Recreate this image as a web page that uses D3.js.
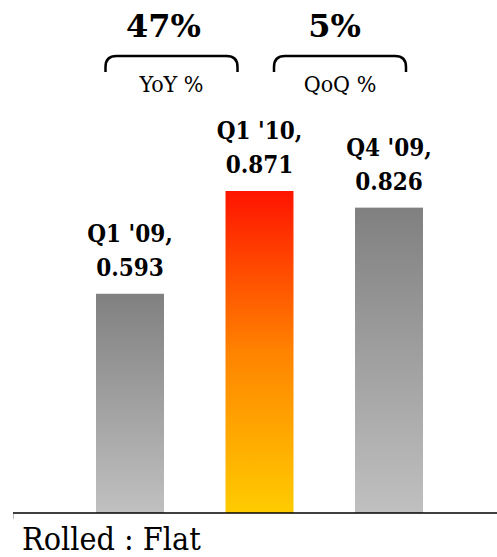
<!DOCTYPE html>
<html>
<head>
<meta charset="utf-8">
<script src="https://cdn.jsdelivr.net/npm/d3@7"></script>
<style>
  html, body { margin: 0; padding: 0; background: #fff; }
  svg { display: block; }
  text { font-family: "DejaVu Serif Condensed", "DejaVu Serif", serif; }
</style>
</head>
<body>
<svg id="chart" width="497" height="557"></svg>
<script>
// Quarterly values
const categories = ["Q1 '09", "Q1 '10", "Q4 '09"];
const values = [0.593, 0.871, 0.826];
const highlight = [false, true, false];

// Growth call-outs above the bars
const growthValues = ["47%", "5%"];
const growthLabels = ["YoY %", "QoQ %"];

const footer = "Rolled : Flat";

const svg = d3.select("#chart");
const W = 497, H = 557;
const baseY = 513;

const x = d3.scaleBand()
  .domain(categories)
  .range([65.25, 453.75])
  .paddingInner(0.475)
  .paddingOuter(0.2375);

const y = d3.scaleLinear()
  .domain([0, 1])
  .range([baseY, baseY - 369.7]);

const defs = svg.append("defs");
const grayGrad = defs.append("linearGradient")
  .attr("id", "gray").attr("x1", 0).attr("y1", 0).attr("x2", 0).attr("y2", 1);
grayGrad.append("stop").attr("offset", 0).attr("stop-color", "#808080");
grayGrad.append("stop").attr("offset", 1).attr("stop-color", "#c0c0c0");

const hotGrad = defs.append("linearGradient")
  .attr("id", "hot").attr("x1", 0).attr("y1", 0).attr("x2", 0).attr("y2", 1);
hotGrad.append("stop").attr("offset", 0).attr("stop-color", "#ff1400");
hotGrad.append("stop").attr("offset", 0.5).attr("stop-color", "#ff8300");
hotGrad.append("stop").attr("offset", 1).attr("stop-color", "#ffcc00");

// Bars
svg.append("g").selectAll("rect")
  .data(values)
  .join("rect")
  .attr("x", (d, i) => x(categories[i]))
  .attr("y", d => y(d))
  .attr("width", x.bandwidth())
  .attr("height", d => y(0) - y(d))
  .attr("fill", (d, i) => highlight[i] ? "url(#hot)" : "url(#gray)");

// Value labels: two lines above each bar
const labels = svg.append("g")
  .attr("font-weight", "bold")
  .attr("font-size", 24)
  .attr("fill", "#000")
  .attr("text-anchor", "middle");

values.forEach((v, i) => {
  const cx = x(categories[i]) + x.bandwidth() / 2;
  const t = labels.append("text").attr("x", cx).attr("y", y(v) - 52);
  t.append("tspan").attr("x", cx).text(categories[i] + ",");
  t.append("tspan").attr("x", cx).attr("dy", 34).text(v.toFixed(3));
});

// Axis baseline
svg.append("line")
  .attr("x1", 13).attr("x2", W)
  .attr("y1", baseY).attr("y2", baseY)
  .attr("stroke", "#000").attr("stroke-width", 1.5);
svg.append("line")
  .attr("x1", 13.5).attr("x2", 13.5)
  .attr("y1", baseY + 1).attr("y2", baseY + 6)
  .attr("stroke", "#bbb").attr("stroke-width", 1);

// Growth call-outs with brace brackets
const calloutCenters = [171.5, 340];
const valueCenters = [163.5, 334.5];
const braceHalf = 66;
growthValues.forEach((g, i) => {
  const cx = calloutCenters[i];
  svg.append("text")
    .attr("x", valueCenters[i]).attr("y", 37)
    .attr("text-anchor", "middle")
    .style("font-family", "'DejaVu Serif', serif")
    .attr("font-weight", "bold")
    .attr("font-size", 32)
    .text(g);

  const x0 = cx - braceHalf, x1 = cx + braceHalf, top = 56, bot = 72, r = 11;
  svg.append("path")
    .attr("d", `M${x0},${bot} L${x0},${top + r} Q${x0},${top} ${x0 + r},${top} L${x1 - r},${top} Q${x1},${top} ${x1},${top + r} L${x1},${bot}`)
    .attr("fill", "none")
    .attr("stroke", "#000")
    .attr("stroke-width", 2.5);

  svg.append("text")
    .attr("x", cx).attr("y", 92)
    .attr("text-anchor", "middle")
    .attr("font-size", 23)
    .text(growthLabels[i]);
});

// Footer caption
svg.append("text")
  .attr("x", 22).attr("y", 550)
  .attr("font-size", 32)
  .text(footer);
</script>
</body>
</html>
